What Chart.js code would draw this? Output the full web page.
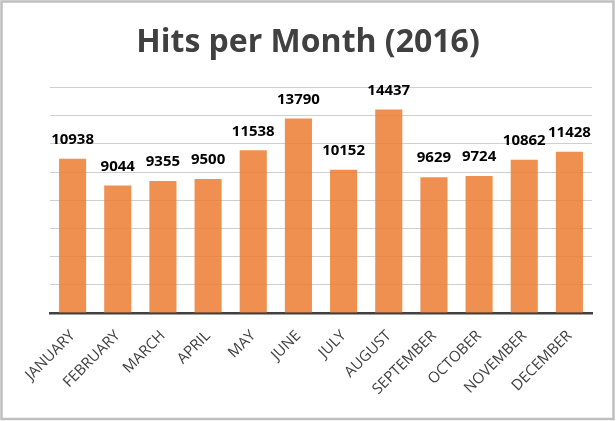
<!DOCTYPE html>
<html>
<head>
<meta charset="utf-8">
<script src="https://cdn.jsdelivr.net/npm/chart.js@4/dist/chart.umd.min.js"></script>
<style>
  html, body { margin: 0; padding: 0; background: #fff; }
  #wrap { width: 616px; height: 421px; }
</style>
</head>
<body>
<div id="wrap"><canvas id="graficoHits" width="616" height="421"></canvas></div>
<script>
const meses = ["JANUARY", "FEBRUARY", "MARCH", "APRIL", "MAY", "JUNE",
  "JULY", "AUGUST", "SEPTEMBER", "OCTOBER", "NOVEMBER", "DECEMBER"];
const hits = [10938, 9044, 9355, 9500, 11538, 13790, 10152, 14437, 9629, 9724, 10862, 11428];
const yTicks = [0, 2000, 4000, 6000, 8000, 10000, 12000, 14000, 16000];

// marco gris y fondo blanco como en la imagen
const marco = {
  id: "marco",
  beforeDraw(chart) {
    const c = chart.ctx;
    c.save();
    c.fillStyle = "#ffffff";
    c.fillRect(0, 0, chart.width, chart.height);
    c.restore();
  },
  afterDraw(chart) {
    const c = chart.ctx;
    c.save();
    c.strokeStyle = "#bfbfbf";
    c.lineWidth = 2.5;
    c.strokeRect(1.5, 1.5, chart.width - 4, chart.height - 3.5);
    c.restore();
  }
};

// etiquetas de valor encima de cada barra
const etiquetas = {
  id: "etiquetas",
  afterDatasetsDraw(chart) {
    const c = chart.ctx;
    const meta = chart.getDatasetMeta(0);
    c.save();
    c.font = "bold 15px 'Open Sans'";
    c.fillStyle = "#000000";
    c.textAlign = "center";
    c.textBaseline = "middle";
    meta.data.forEach((bar, i) => {
      c.fillText(String(hits[i]), bar.x, bar.y - 19);
    });
    c.restore();
  }
};

const ctx = document.getElementById("graficoHits").getContext("2d");

new Chart(ctx, {
  type: "bar",
  data: {
    labels: meses,
    datasets: [{
      label: "Hits",
      data: hits,
      backgroundColor: "rgba(237,125,49,0.85)",
      borderWidth: 0,
      barPercentage: 0.6,
      categoryPercentage: 1.0
    }]
  },
  options: {
    responsive: false,
    animation: false,
    devicePixelRatio: 1,
    layout: { padding: { left: 24, right: 24, top: 0, bottom: 0 } },
    plugins: {
      legend: { display: false },
      tooltip: { enabled: false },
      title: {
        display: true,
        text: "Hits per Month (2016)",
        color: "#404040",
        font: { family: "'Open Sans'", size: 32, weight: "bold" },
        padding: { top: 24, bottom: 25 }
      }
    },
    scales: {
      x: {
        grid: { display: false, drawTicks: false },
        border: { display: true, color: "#404040", width: 2.5 },
        ticks: {
          color: "#404040",
          font: { family: "'Open Sans'", size: 15 },
          minRotation: 45,
          maxRotation: 45,
          autoSkip: false,
          padding: 14
        },
        afterFit(scale) { scale.height = 108; }
      },
      y: {
        min: yTicks[0],
        max: yTicks[yTicks.length - 1],
        afterBuildTicks(scale) { scale.ticks = yTicks.map(v => ({ value: v })); },
        ticks: { display: false },
        grid: { color: "#cfcfcf", lineWidth: 1, drawTicks: false },
        border: { display: false },
        afterFit(scale) { scale.width = 26; }
      }
    }
  },
  plugins: [marco, etiquetas]
});
</script>
</body>
</html>
